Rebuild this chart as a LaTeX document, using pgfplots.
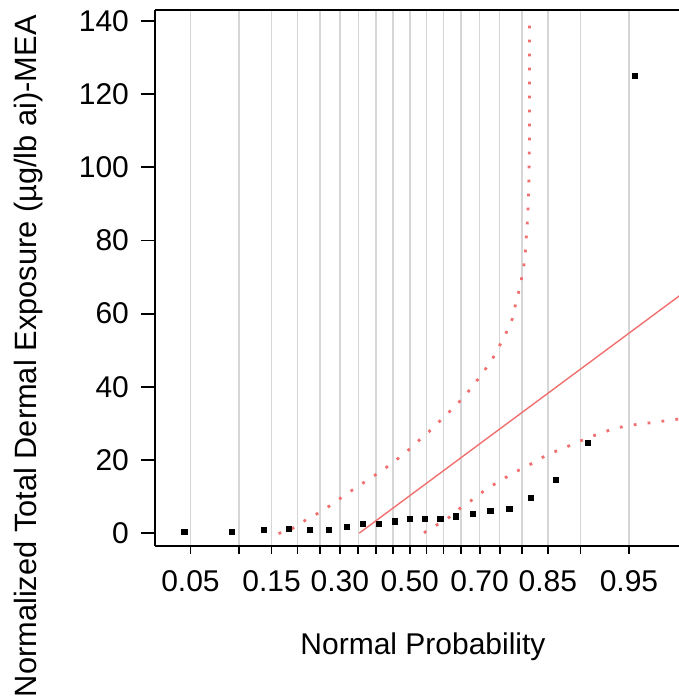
\documentclass[border=0pt]{standalone}
\usepackage{fontspec}
\setmainfont{Liberation Sans}
\usepackage{pgfplots}
\pgfplotsset{compat=1.18}
\definecolor{fitred}{RGB}{240,112,112}
\definecolor{gridgray}{RGB}{214,214,214}

\begin{document}
\begin{tikzpicture}
\begin{axis}[
    scale only axis,
    width=262pt, height=268pt,
    xmin=-1.911, xmax=2.02,
    ymin=-3.4, ymax=143.1,
    axis x line*=box, axis y line*=left,
    xtick pos=left, ytick pos=left,
    tick align=outside,
    major tick length=4pt,
    ytick style={/pgfplots/major tick length=7pt},
    axis line style={line width=0.9pt},
    tick style={line width=0.9pt, black},
    font=\fontsize{15pt}{18pt}\selectfont,
    /pgf/number format/assume math mode=true,
    % normal quantiles of 0.05, 0.10, ..., 0.95
    xtick={-1.6449,-1.2816,-1.0364,-0.8416,-0.6745,-0.5244,-0.3853,-0.2533,-0.1257,0,
           0.1257,0.2533,0.3853,0.5244,0.6745,0.8416,1.0364,1.2816,1.6449},
    xticklabels={0.05,{},0.15,{},{},0.30,{},{},{},0.50,{},{},{},0.70,{},{},0.85,{},0.95},
    xticklabel style={yshift=-5pt},
    ytick={0,20,...,140},
    yticklabel style={xshift=-5.5pt},
    xmajorgrids,
    grid style={gridgray, line width=0.8pt},
    xlabel={Normal Probability},
    xlabel style={at={(rel axis cs:0.5115,0)}, anchor=center, yshift=-50.8pt},
    ylabel={Normalized Total Dermal Exposure (µg/lb ai)-MEA},
    ylabel style={at={(rel axis cs:0,0.3533)}, anchor=center, yshift=63pt,
                  font=\fontsize{15.4pt}{18pt}\selectfont},
]
\coordinate (bl) at (rel axis cs:0,0);

% observations at Weibull plotting positions i/22
\addplot[only marks, mark=square*, mark size=1.3pt, black] coordinates {
  (-1.6906,0.3) (-1.3352,0.3) (-1.0968,1.0) (-0.9085,1.1) (-0.7479,1.0)
  (-0.6046,1.0) (-0.4727,1.8) (-0.3487,2.5) (-0.2299,2.5) (-0.1142,3.2)
  (0,3.9) (0.1142,3.9) (0.2299,3.9) (0.3487,4.6) (0.4727,5.3)
  (0.6046,6.0) (0.7479,6.7) (0.9085,9.6) (1.0968,14.6) (1.3352,24.6)
  (1.6906,125.0)
};

% fitted line
\addplot[fitred, line width=0.7pt] coordinates {(-0.379,0) (2.05,65.6)};

% upper bound
\addplot[fitred, line width=1.4pt, dash pattern=on 1.4pt off 5.6pt] coordinates {
  (-0.984,-0.1) (-0.883,1.2) (-0.776,3.7) (-0.680,5.6) (-0.578,8.0)
  (-0.484,10.5) (-0.388,12.8) (-0.291,15.1) (-0.197,17.4) (-0.101,20.0)
  (-0.010,22.7) (0.074,25.5) (0.158,28.2) (0.246,31.4) (0.326,34.2)
  (0.403,37.1) (0.480,40.5) (0.549,43.9) (0.613,47.1) (0.669,50.9)
  (0.724,54.8) (0.769,58.5) (0.794,62.6) (0.824,66.9) (0.846,70.8)
  (0.864,75.0) (0.872,79.3) (0.879,83.5) (0.887,87.6) (0.894,96.3)
  (0.899,108.8) (0.899,121.6) (0.899,139.0)
};

% lower bound
\addplot[fitred, line width=1.4pt, dash pattern=on 1.4pt off 5.6pt] coordinates {
  (0.107,0.1) (0.196,2.1) (0.285,4.0) (0.381,6.9) (0.480,9.4)
  (0.577,12.1) (0.673,14.2) (0.779,16.5) (0.881,18.3) (0.983,20.5)
  (1.084,22.2) (1.198,23.9) (1.300,25.5) (1.414,27.1) (1.528,28.5)
  (1.635,29.4) (1.744,29.9) (1.858,30.4) (1.972,31.0) (2.05,31.3)
};
\end{axis}
\pgfresetboundingbox
\path[use as bounding box] (bl) ++(-77.5pt,-76.2pt) rectangle ++(339.5pt,349pt);
\end{tikzpicture}
\end{document}
